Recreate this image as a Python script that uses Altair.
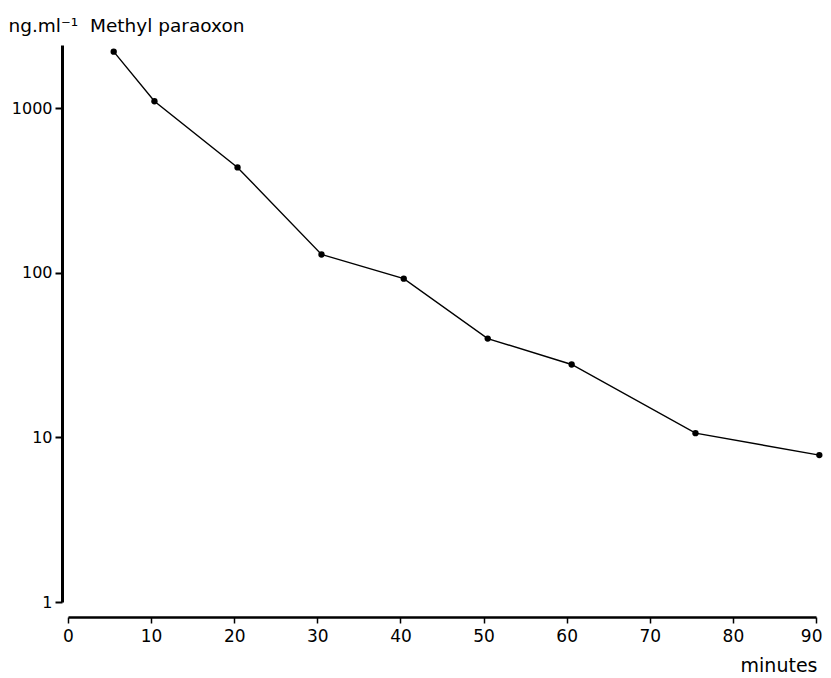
import altair as alt
import pandas as pd

minutes = [5.5, 10.4, 20.4, 30.5, 40.4, 50.5, 60.6, 75.5, 90.4]
conc = [2200, 1100, 436, 129, 92, 39.8, 27.7, 10.6, 7.8]
x_ticks = [0, 10, 20, 30, 40, 50, 60, 70, 80, 90]
y_ticks = [1, 10, 100, 1000]

df = pd.DataFrame({"minutes": minutes, "conc": conc})

FONT = "DejaVu Sans"
last_tick = alt.datum.value == 90

x_enc = alt.X(
    "minutes:Q",
    scale=alt.Scale(domain=[0, 90], nice=False, zero=False),
    axis=alt.Axis(
        values=x_ticks, title="minutes", offset=15, grid=False,
        domainWidth=2.5, domainColor="black", tickColor="black", tickWidth=1.5,
        tickSize=6, labelFontSize=17, labelColor="black", labelPadding=5,
        labelFont=FONT, titleFont=FONT, labelFlush=False,
        labelAlign=alt.condition(last_tick, alt.value("right"), alt.value("center")),
        labelOffset=alt.condition(last_tick, alt.value(6), alt.value(0)),
        titleX=749, titleY=54, titleAlign="right", titleBaseline="alphabetic",
        titleFontSize=19, titleFontWeight="normal", titleColor="black",
    ),
)
y_enc = alt.Y(
    "conc:Q",
    scale=alt.Scale(type="log", domain=[1, 2415], nice=False),
    axis=alt.Axis(
        values=y_ticks, format="d", title="ng.ml⁻¹\u00a0 Methyl paraoxon", offset=6,
        grid=False, domainWidth=3, domainColor="black", tickColor="black",
        tickWidth=2, tickSize=7, labelFontSize=16, labelColor="black",
        labelPadding=3, labelFont=FONT, titleFont=FONT, labelFlush=False,
        titleAngle=0, titleX=-54, titleY=-14, titleAlign="left",
        titleBaseline="alphabetic", titleFontSize=18.5, titleFontWeight="normal",
        titleColor="black",
    ),
)

base = alt.Chart(df).encode(x=x_enc, y=y_enc)
line = base.mark_line(color="black", strokeWidth=1.4)
pts = base.mark_point(filled=True, color="black", size=40, opacity=1)

chart = (
    alt.layer(line, pts)
    .properties(width=748, height=557, autosize=alt.AutoSizeParams(type="none"),
                padding={"left": 60, "top": 37, "right": 7, "bottom": 74},
                view=alt.ViewBackground(stroke="transparent", strokeWidth=0))
    .configure_view(stroke="transparent", strokeWidth=0)
    .configure(background="white")
)

chart.save("out.html", embed_options={"renderer": "svg", "actions": False})
